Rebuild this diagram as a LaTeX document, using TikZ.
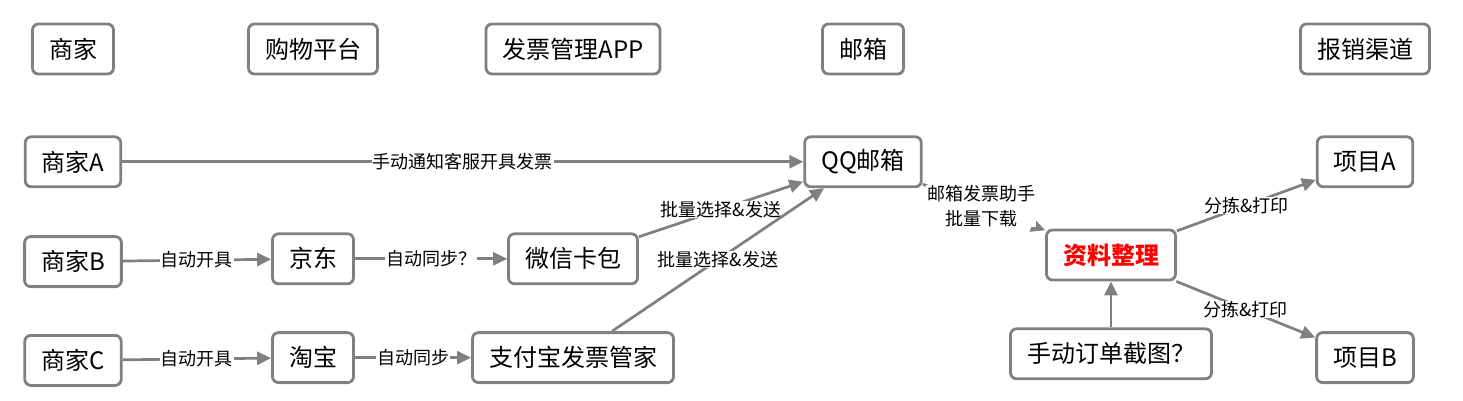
\documentclass[tikz,border=0pt]{standalone}
\usepackage{fontspec}
\setmainfont{Noto Sans CJK SC}
\usepackage{tikz}
\usetikzlibrary{positioning,arrows.meta}
\definecolor{linegray}{RGB}{128,128,128}
\tikzset{main node/.style={rectangle, draw=linegray, line width=2.8pt, rounded corners=6pt, fill=white,
                           minimum height=50pt, inner xsep=16.5pt, inner ysep=2pt, font=\fontsize{24}{26}\selectfont},}
\tikzset{flow/.style={draw=linegray, line width=2.7pt, -{Triangle[length=14pt,width=13pt]}},
         lab/.style={fill=white, inner xsep=1pt, inner ysep=0pt, font=\fontsize{18}{25}\selectfont, align=center},}

\begin{document}
\begin{tikzpicture}[x=1pt, y=-1pt]
        \useasboundingbox (0,0) rectangle (1463,401);
        % Headers
        \node[main node] (h1) at (73,49) {商家};
        \node[main node] (h2) at (313,49) {购物平台};
        \node[main node] (h3) at (573,49) {发票管理APP};
        \node[main node] (h4) at (863,49) {邮箱};
        \node[main node] (h5) at (1365,49) {报销渠道};
        % Shops
        \node[main node] [below = 60pt of h1] (sA) {商家A};
        \node[main node] [below = 47pt of sA] (sB) {商家B};
        \node[main node] [below = 46pt of sB] (sC) {商家C};
        % Platforms and apps
        \node[main node] [below = 157pt of h2] (jd) {京东};
        \node[main node] [below = 46pt of jd] (tb) {淘宝};
        \node[main node] [below = 157pt of h3] (wx) {微信卡包};
        \node[main node] [below = 46pt of wx] (zfb) {支付宝发票管家};
        % Mail and sorting
        \node[main node] [below = 60pt of h4] (qq) {QQ邮箱};
        \node[main node, text=red, font=\fontsize{24}{26}\selectfont\bfseries] (zl) at (1111,255) {资料整理};
        \node[main node] [below = 46pt of zl] (sd) {手动订单截图？};
        \node[main node] [below = 60pt of h5] (pA) {项目A};
        \node[main node] [below = 143pt of pA] (pB) {项目B};
        % Paths
        \draw[flow] (sA) -- node [lab] {手动通知客服开具发票} (qq);
        \draw[flow] (sB) -- node [lab] {自动开具} (jd);
        \draw[flow] (sC) -- node [lab] {自动开具} (tb);
        \draw[flow] (jd) -- node [lab] {自动同步？} (wx);
        \draw[flow] (tb) -- node [lab] {自动同步} (zfb);
        \draw[flow] (wx) -- node [lab] {批量选择\&发送} (qq);
        \draw[flow] (zfb) -- node [lab] {批量选择\&发送} (qq);
        \draw[flow] (qq) -- node [lab, pos=0.48] {邮箱发票助手\\批量下载} (zl);
        \draw[flow] (zl) -- node [lab] {分拣\&打印} (pA);
        \draw[flow] (zl) -- node [lab] {分拣\&打印} (pB);
        \draw[flow] (sd) -- (zl);
    \end{tikzpicture}
\end{document}
